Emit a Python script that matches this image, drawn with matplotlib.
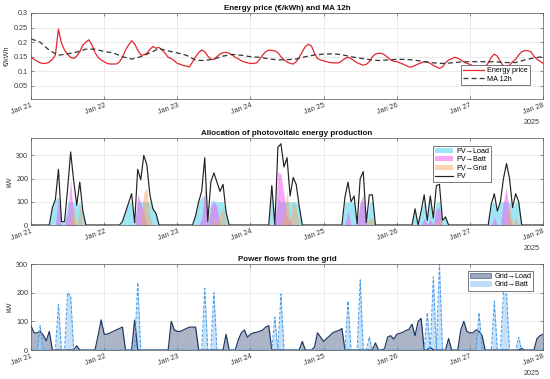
import numpy as np
import matplotlib
matplotlib.use('Agg')
import matplotlib.pyplot as plt
from matplotlib.patches import Patch
from matplotlib.lines import Line2D

plt.rcParams['font.family'] = ['Liberation Sans', 'DejaVu Sans']

# hourly samples, 2025-01-21 00:00 .. 2025-01-28 00:00
start = np.datetime64('2025-01-21T00:00')
hours = start + np.arange(169) * np.timedelta64(1, 'h')
hours_ma = hours[::3]
days = start + np.arange(8) * np.timedelta64(1, 'D')
day_labels = ['Jan 21', 'Jan 22', 'Jan 23', 'Jan 24', 'Jan 25', 'Jan 26', 'Jan 27', 'Jan 28']

price = [
    0.148, 0.141, 0.135, 0.129, 0.127, 0.127, 0.132, 0.141, 0.156, 0.245, 0.196, 0.173,
    0.158, 0.148, 0.144, 0.152, 0.167, 0.190, 0.200, 0.208, 0.190, 0.164, 0.148, 0.139,
    0.133, 0.127, 0.125, 0.125, 0.125, 0.132, 0.148, 0.173, 0.190, 0.205, 0.194, 0.173,
    0.156, 0.156, 0.162, 0.175, 0.185, 0.179, 0.182, 0.173, 0.162, 0.148, 0.144, 0.136,
    0.127, 0.124, 0.120, 0.118, 0.115, 0.133, 0.150, 0.164, 0.173, 0.167, 0.152, 0.141,
    0.141, 0.150, 0.159, 0.164, 0.165, 0.162, 0.156, 0.148, 0.143, 0.136, 0.132, 0.129,
    0.127, 0.127, 0.129, 0.141, 0.156, 0.167, 0.173, 0.172, 0.170, 0.164, 0.150, 0.139,
    0.132, 0.127, 0.125, 0.133, 0.148, 0.167, 0.185, 0.193, 0.187, 0.162, 0.144, 0.139,
    0.136, 0.133, 0.130, 0.129, 0.129, 0.129, 0.136, 0.144, 0.148, 0.144, 0.136, 0.129,
    0.125, 0.121, 0.124, 0.133, 0.150, 0.159, 0.162, 0.162, 0.156, 0.148, 0.139, 0.134,
    0.133, 0.129, 0.125, 0.120, 0.115, 0.115, 0.120, 0.125, 0.129, 0.133, 0.132, 0.127,
    0.120, 0.115, 0.110, 0.115, 0.129, 0.139, 0.143, 0.148, 0.145, 0.139, 0.132, 0.127,
    0.124, 0.118, 0.112, 0.110, 0.110, 0.115, 0.129, 0.148, 0.159, 0.152, 0.133, 0.118,
    0.115, 0.121, 0.133, 0.141, 0.156, 0.167, 0.171, 0.171, 0.167, 0.152, 0.141, 0.135,
    0.127,
]

# moving average, read every 3 hours
ma12 = [
    0.211, 0.200, 0.172, 0.155, 0.160, 0.166, 0.176, 0.176,
    0.168, 0.163, 0.150, 0.142, 0.150, 0.163, 0.178, 0.170,
    0.163, 0.155, 0.138, 0.137, 0.142, 0.152, 0.158, 0.155,
    0.150, 0.148, 0.143, 0.139, 0.140, 0.142, 0.150, 0.156,
    0.159, 0.160, 0.157, 0.150, 0.145, 0.140, 0.137, 0.139,
    0.141, 0.141, 0.138, 0.133, 0.129, 0.127, 0.129, 0.132,
    0.133, 0.133, 0.133, 0.132, 0.130, 0.130, 0.139, 0.146,
    0.150,
]

z6 = [0, 0, 0, 0, 0, 0]

pv = (z6 + [0, 75, 110, 240, 15, 15, 155, 315, 190, 85, 185, 60] + z6
      + z6 + [15, 55, 95, 135, 10, 240, 195, 300, 260, 130, 70, 50] + z6
      + z6 + [40, 100, 145, 290, 15, 185, 225, 185, 145, 175, 55, 0] + z6
      + z6 + [0, 170, 0, 335, 350, 250, 290, 125, 205, 175, 80, 0] + z6
      + z6 + [0, 120, 185, 100, 125, 5, 200, 230, 10, 130, 130, 0] + z6
      + z6 + [70, 0, 60, 130, 20, 125, 30, 170, 175, 20, 35, 0] + z6
      + z6 + [0, 90, 135, 60, 100, 200, 265, 200, 75, 135, 100, 0] + z6 + [0])

pv_load = (z6 + [0, 75, 110, 120, 15, 15, 100, 100, 100, 85, 100, 60] + z6
           + z6 + [15, 55, 95, 100, 10, 105, 100, 100, 100, 100, 70, 50] + z6
           + z6 + [40, 100, 120, 125, 15, 105, 105, 100, 100, 100, 55, 0] + z6
           + z6 + [0, 165, 0, 110, 100, 100, 100, 100, 100, 100, 80, 0] + z6
           + z6 + [0, 100, 100, 100, 100, 5, 100, 100, 10, 100, 100, 0] + z6
           + z6 + [70, 0, 60, 100, 20, 100, 30, 100, 100, 20, 35, 0] + z6
           + z6 + [0, 90, 100, 60, 100, 100, 100, 100, 75, 100, 100, 0] + z6 + [0])

pv_batt = (z6 + [0, 0, 0, 120, 0, 0, 50, 200, 10, 0, 0, 0] + z6
           + z6 + [0, 0, 0, 0, 0, 135, 95, 60, 0, 0, 0, 0] + z6
           + z6 + [0, 0, 25, 165, 0, 80, 100, 80, 0, 0, 0, 0] + z6
           + z6 + [0, 0, 0, 230, 220, 130, 40, 20, 0, 0, 0, 0] + z6
           + z6 + [0, 0, 60, 0, 0, 0, 100, 130, 0, 0, 0, 0] + z6
           + z6 + [0, 0, 0, 30, 0, 25, 0, 70, 75, 0, 0, 0] + z6
           + z6 + [0, 0, 35, 0, 0, 100, 165, 30, 0, 0, 0, 0] + z6 + [0])

pv_grid = (z6 + [0, 0, 0, 0, 0, 0, 0, 0, 90, 0, 85, 0] + z6
           + z6 + [0, 0, 0, 0, 0, 0, 0, 140, 160, 30, 0, 0] + z6
           + z6 + [0, 0, 0, 0, 0, 0, 25, 0, 45, 75, 0, 0] + z6
           + z6 + [0, 0, 0, 0, 0, 50, 150, 25, 100, 75, 0, 0] + z6
           + z6 + [0, 0, 0, 0, 0, 0, 0, 0, 0, 30, 30, 0] + z6
           + z6 + [0, 0, 0, 0, 0, 0, 0, 0, 30, 0, 0, 0] + z6
           + z6 + [0, 0, 0, 0, 0, 0, 0, 100, 0, 35, 0, 0] + z6 + [0])

grid_load = [
    84, 60, 60, 65, 52, 32, 65, 0, 0, 0, 0, 0, 0, 0, 0, 15, 0, 0, 0, 0, 0, 0, 50, 105,
    55, 55, 60, 65, 70, 75, 80, 0, 0, 0, 105, 0, 0, 0, 0, 0, 0, 0, 0, 0, 0, 0, 100, 70,
    65, 65, 70, 75, 80, 80, 80, 0, 0, 0, 0, 0, 0, 0, 0, 0, 55, 0, 0, 0, 35, 60, 70, 45,
    55, 60, 62, 65, 70, 80, 85, 0, 0, 0, 0, 0, 0, 0, 0, 0, 0, 30, 0, 0, 0, 10, 60, 45,
    30, 40, 50, 60, 65, 68, 75, 0, 0, 0, 0, 0, 0, 0, 0, 0, 0, 25, 0, 0, 5, 45, 50, 38,
    55, 58, 62, 68, 72, 90, 50, 100, 110, 0, 0, 10, 0, 0, 0, 0, 0, 40, 0, 0, 0, 70, 100, 65,
    60, 60, 70, 65, 50, 0, 0, 0, 0, 0, 0, 0, 0, 0, 0, 0, 0, 5, 0, 0, 0, 0, 40, 50,
    55,
]

grid_batt = [
    0, 0, 0, 85, 0, 0, 0, 0, 0, 160, 0, 0, 200, 190, 0, 0, 0, 0, 0, 0, 0, 0, 0, 0,
    0, 0, 0, 0, 0, 0, 0, 0, 0, 0, 0, 235, 0, 0, 0, 0, 0, 0, 0, 0, 0, 0, 0, 0,
    0, 0, 0, 0, 0, 0, 0, 0, 0, 215, 0, 0, 200, 0, 0, 0, 0, 0, 0, 0, 0, 0, 0, 0,
    0, 0, 0, 0, 0, 0, 0, 0, 115, 0, 195, 0, 0, 0, 0, 0, 0, 0, 0, 0, 0, 0, 0, 0,
    0, 0, 0, 0, 0, 0, 0, 0, 170, 0, 0, 0, 245, 0, 0, 45, 0, 0, 0, 0, 0, 0, 0, 0,
    0, 0, 0, 0, 0, 0, 0, 0, 0, 0, 130, 0, 255, 0, 300, 0, 0, 0, 0, 0, 0, 0, 0, 0,
    0, 0, 0, 130, 0, 0, 0, 0, 170, 0, 0, 200, 195, 0, 0, 0, 45, 0, 0, 0, 0, 0, 0, 0,
    0,
]

TICK_FS = 5.2
TXT = '#3a3a3a'


def style_axes(ax, title, ylabel):
    ax.set_xlim(hours[0], hours[-1])
    ax.set_xticks(days)
    ax.set_xticklabels(day_labels, rotation=20, ha='right', rotation_mode='anchor')
    ax.tick_params(direction='in', top=True, right=True, length=2, width=0.4,
                   labelsize=TICK_FS, labelcolor=TXT, color=TXT, pad=2)
    ax.grid(True, color='#e3e3e3', linewidth=0.5)
    ax.set_axisbelow(True)
    for s in ax.spines.values():
        s.set_linewidth(0.5)
        s.set_color('#555555')
    ax.set_title(title, fontsize=5.8, fontweight='bold', pad=2.5, color='#111111')
    ax.set_ylabel(ylabel, fontsize=TICK_FS, color=TXT, labelpad=2)
    ax.text(0.994, -0.27, '2025', transform=ax.transAxes, ha='right', va='center',
            fontsize=TICK_FS, color=TXT)


def boxed_legend(ax, handles, labels, hl, **kw):
    leg = ax.legend(handles, labels, fontsize=TICK_FS, frameon=True, fancybox=False,
                    edgecolor='#444444', framealpha=1, borderpad=0.3, labelspacing=0.2,
                    handlelength=hl, handletextpad=0.4, **kw)
    leg.get_frame().set_linewidth(0.5)
    return leg


fig = plt.figure(figsize=(5.5, 3.79), dpi=100)
ax1 = fig.add_axes([0.0564, 0.7388, 0.931, 0.2269])
ax2 = fig.add_axes([0.0564, 0.4063, 0.931, 0.2296])
ax3 = fig.add_axes([0.0564, 0.0765, 0.931, 0.2269])

# energy price
l1, = ax1.plot(hours, price, color='#e3262f', lw=0.9)
l2, = ax1.plot(hours_ma, ma12, color='#333333', lw=0.9, ls=(0, (4, 2.5)))
ax1.set_ylim(0.005, 0.3)
ax1.set_yticks([0.05, 0.1, 0.15, 0.2, 0.25, 0.3])
ax1.set_yticklabels(['0.05', '0.1', '0.15', '0.2', '0.25', '0.3'])
style_axes(ax1, 'Energy price (€/kWh) and MA 12h', '€/kWh')
boxed_legend(ax1, [l1, l2], ['Energy price', 'MA 12h'], 2.9, loc='lower right',
             bbox_to_anchor=(0.982, 0.12))

# PV allocation
c_load, c_batt, c_grid = '#4fd0f0', '#f060f0', '#f0a860'
ax2.fill_between(hours, pv_load, color=c_load, alpha=0.55, lw=0)
ax2.fill_between(hours, pv_batt, color=c_batt, alpha=0.55, lw=0)
ax2.fill_between(hours, pv_grid, color=c_grid, alpha=0.5, lw=0)
ax2.plot(hours, pv, color='#222222', lw=0.85)
ax2.set_ylim(0, 375)
ax2.set_yticks([0, 100, 200, 300])
style_axes(ax2, 'Allocation of photovoltaic energy production', 'kW')
h2 = [Patch(facecolor=c_load, alpha=0.55, lw=0), Patch(facecolor=c_batt, alpha=0.55, lw=0),
      Patch(facecolor=c_grid, alpha=0.5, lw=0), Line2D([], [], color='#222222', lw=0.85)]
boxed_legend(ax2, h2, ['PV→Load', 'PV→Batt', 'PV→Grid', 'PV'], 2.5, loc='upper right',
             bbox_to_anchor=(0.906, 0.955))

# grid flows
c_gl, c_gb = '#7484a3', '#9fcdf7'
ax3.fill_between(hours, grid_load, color=c_gl, alpha=0.6, lw=0)
ax3.plot(hours, grid_load, color='#1c355e', lw=0.85)
ax3.fill_between(hours, grid_batt, color=c_gb, alpha=0.6, lw=0)
ax3.plot(hours, grid_batt, color='#4a9ee8', lw=0.75, ls=(0, (3, 1.5)))
ax3.set_ylim(0, 300)
ax3.set_yticks([0, 100, 200, 300])
style_axes(ax3, 'Power flows from the grid', 'kW')
h3 = [Patch(facecolor=c_gl, alpha=0.7, edgecolor='#1c355e', lw=0.5),
      Patch(facecolor=c_gb, alpha=0.7, edgecolor='#9fcdf7', lw=0.5)]
boxed_legend(ax3, h3, ['Grid→Load', 'Grid→Batt'], 2.9, loc='upper right',
             bbox_to_anchor=(0.988, 0.965))

fig.savefig('out.png', dpi=100)
